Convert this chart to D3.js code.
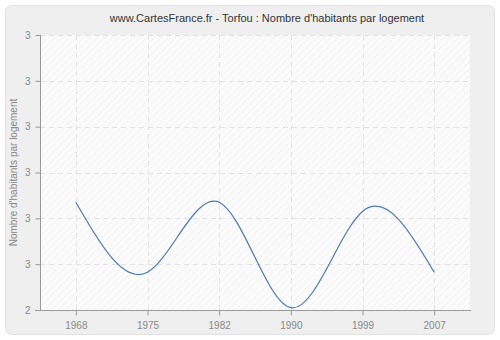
<!DOCTYPE html>
<html>
<head>
<meta charset="utf-8">
<script src="https://cdn.jsdelivr.net/npm/d3@7"></script>
<style>
  body { margin: 0; background: #fff; }
  text { font-family: "Liberation Sans", Arial, sans-serif; }
</style>
</head>
<body>
<svg width="500" height="340"></svg>
<script>
// data
var years = ["1968", "1975", "1982", "1990", "1999", "2007"];
var values = [2.554, 2.493, 2.554, 2.462, 2.546, 2.493];
var yTicks = [2.46, 2.50, 2.54, 2.58, 2.62, 2.66, 2.70];
var yTickLabels = ["2", "3", "3", "3", "3", "3", "3"];

var width = 500;
var height = 340;
var plotLeft = 40, plotRight = 470, plotTop = 35, plotBottom = 310;

var svg = d3.select("svg");

var defs = svg.append("defs");
var pat = defs.append("pattern")
    .attr("id", "hatch")
    .attr("patternUnits", "userSpaceOnUse")
    .attr("width", 5)
    .attr("height", 5)
    .attr("patternTransform", "rotate(45)");
pat.append("rect").attr("width", 5).attr("height", 5).attr("fill", "#fbfbfb");
pat.append("line")
    .attr("x1", 0).attr("y1", 0).attr("x2", 0).attr("y2", 5)
    .attr("stroke", "#ececec").attr("stroke-width", 1);

// outer panel
svg.append("rect")
    .attr("x", 5.5).attr("y", 5.5)
    .attr("width", 489).attr("height", 329)
    .attr("rx", 6)
    .attr("fill", "#efefef")
    .attr("stroke", "#e2e2e2");

svg.append("text")
    .attr("x", 267).attr("y", 22)
    .attr("text-anchor", "middle")
    .attr("font-size", 11)
    .attr("fill", "#333")
    .text("www.CartesFrance.fr - Torfou : Nombre d'habitants par logement");

var x = d3.scalePoint()
    .domain(years)
    .range([plotLeft, plotRight])
    .padding(0.5);

var y = d3.scaleLinear()
    .domain([yTicks[0], yTicks[yTicks.length - 1]])
    .range([plotBottom, plotTop]);

// plot area
svg.append("rect")
    .attr("x", plotLeft).attr("y", plotTop)
    .attr("width", plotRight - plotLeft).attr("height", plotBottom - plotTop)
    .attr("fill", "url(#hatch)");

// grid
svg.append("g")
    .selectAll("line")
    .data(yTicks.slice(1))
    .enter()
    .append("line")
    .attr("x1", plotLeft).attr("x2", plotRight)
    .attr("y1", d => Math.round(y(d)) + 0.5)
    .attr("y2", d => Math.round(y(d)) + 0.5)
    .attr("stroke", "#e2e2e2")
    .attr("stroke-dasharray", "5,4");

svg.append("g")
    .selectAll("line")
    .data(years)
    .enter()
    .append("line")
    .attr("x1", d => Math.round(x(d)) + 0.5)
    .attr("x2", d => Math.round(x(d)) + 0.5)
    .attr("y1", plotTop).attr("y2", plotBottom)
    .attr("stroke", "#e2e2e2")
    .attr("stroke-dasharray", "5,4");

// axes
var yAxis = d3.axisLeft(y)
    .tickValues(yTicks)
    .tickSize(5)
    .tickPadding(5)
    .tickFormat((d, i) => yTickLabels[i]);

var gy = svg.append("g")
    .attr("transform", "translate(" + (plotLeft + 0.5) + ",0)")
    .call(yAxis);

var xAxis = d3.axisBottom(x)
    .tickSize(5)
    .tickPadding(6);

var gx = svg.append("g")
    .attr("transform", "translate(0," + (plotBottom + 0.5) + ")")
    .call(xAxis);

gy.select(".domain").attr("d", "M0," + plotTop + "V" + plotBottom);
gx.select(".domain").attr("d", "M" + (plotLeft - 5) + ",0H" + (plotRight + 1));

svg.selectAll(".domain, .tick line").attr("stroke", "#999");
svg.selectAll(".tick text")
    .attr("fill", "#888")
    .attr("font-size", 10)
    .attr("font-family", "Liberation Sans, Arial, sans-serif");

svg.append("text")
    .attr("transform", "translate(17," + ((plotTop + plotBottom) / 2) + ") rotate(-90)")
    .attr("text-anchor", "middle")
    .attr("font-size", 10)
    .attr("fill", "#888")
    .text("Nombre d'habitants par logement");

// line
var line = d3.line()
    .x((d, i) => x(years[i]))
    .y(d => y(d))
    .curve(d3.curveNatural);

svg.append("path")
    .datum(values)
    .attr("d", line)
    .attr("fill", "none")
    .attr("stroke", "#4a79b0")
    .attr("stroke-width", 1.2);
</script>
</body>
</html>
